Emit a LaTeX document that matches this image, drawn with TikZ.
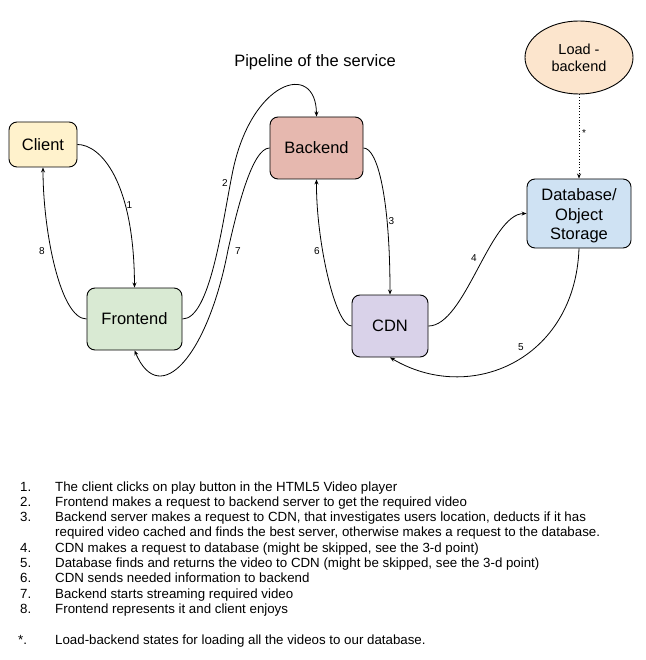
\documentclass[tikz,border=0pt]{standalone}
\usepackage{fontspec}
\setmainfont{Liberation Sans}
\usetikzlibrary{arrows.meta,shapes.geometric}
\definecolor{clientc}{HTML}{FFF2CC}
\definecolor{frontc}{HTML}{D9EAD3}
\definecolor{backc}{HTML}{E6B8AF}
\definecolor{cdnc}{HTML}{D9D2E9}
\definecolor{dbc}{HTML}{CFE2F3}
\definecolor{loadc}{HTML}{FCE5CD}
\begin{document}
\begin{tikzpicture}[x=1pt,y=-1pt,
  box/.style={draw=black,line width=0.9pt,rounded corners=8pt,align=center,
    font=\fontsize{16.5}{20}\selectfont,inner sep=0pt},
  conn/.style={line width=0.8pt,-{Stealth[length=5pt,width=4pt]}},
  elab/.style={font=\fontsize{10}{11}\selectfont,inner sep=1pt},
  item/.style={anchor=base west,font=\fontsize{13.3}{15}\selectfont,inner sep=0pt}]
\useasboundingbox (0,0) rectangle (645,660);

\node[font=\fontsize{16.5}{20}\selectfont] (title) at (315,62) {Pipeline of the service};

\node[box,fill=clientc,minimum width=68pt,minimum height=45pt] (client) at (43,144.5) {Client};
\node[box,fill=frontc,minimum width=95pt,minimum height=62pt] (frontend) at (134.5,319) {Frontend};
\node[box,fill=backc,minimum width=93pt,minimum height=62pt] (backend) at (316.5,148) {Backend};
\node[box,fill=cdnc,minimum width=76pt,minimum height=62pt] (cdn) at (390,326) {CDN};
\node[box,fill=dbc,minimum width=104pt,minimum height=69pt,
  label={[align=center,font=\fontsize{16.5}{19.5}\selectfont,inner sep=0pt,yshift=-2.5pt]center:Database/\\Object\\Storage}] (db) at (579,213.5) {};
\node[ellipse,draw=black,line width=0.9pt,fill=loadc,minimum width=108pt,minimum height=73pt,
  inner sep=0pt,align=center,font=\fontsize{14.5}{17}\selectfont] (load) at (579,57.5) {Load -\\backend};

% 1
\draw[conn] (client.east) .. controls (100,144.5) and (134,180) .. (frontend.north);
% 8
\draw[conn] (frontend.west) .. controls (60,319) and (43,230) .. (client.south);
% 2
\draw[conn] (frontend.east) .. controls (210,319) and (222,225) .. (232,175)
  .. controls (250,80) and (316,60) .. (backend.north);
% 7
\draw[conn] (backend.west) .. controls (252,148) and (237,210) .. (228,250)
  .. controls (208,355) and (160,410) .. (frontend.south);
% 3
\draw[conn] (backend.east) .. controls (378,148) and (390,200) .. (cdn.north);
% 6
\draw[conn] (cdn.west) .. controls (335,326) and (316,240) .. (backend.south);
% 4
\draw[conn] (cdn.east) .. controls (465,326) and (490,214) .. (db.west);
% 5
\draw[conn] (db.south) .. controls (575,360) and (470,405) .. (cdn.south);
% *
\draw[conn,dotted] (load.south) -- (db.north);

\node[elab,anchor=west] (l1) at (125.5,205) {1};
\node[elab] (l8) at (42,251) {8};
\node[elab] (l2) at (225,183) {2};
\node[elab] (l7) at (238,251) {7};
\node[elab,anchor=west] (l3) at (387.5,221) {3};
\node[elab] (l6) at (317,251) {6};
\node[elab] (l4) at (474,258) {4};
\node[elab] (l5) at (521,347) {5};
\node[elab] (ls) at (584,133) {*};

\node[item] (n1) at (20,491.7) {1.};
\node[item] (t1) at (55,491.7) {The client clicks on play button in the HTML5 Video player};
\node[item] (n2) at (20,506.7) {2.};
\node[item] (t2) at (55,506.7) {Frontend makes a request to backend server to get the required video};
\node[item] (n3) at (20,521.7) {3.};
\node[item] (t3) at (55,521.7) {Backend server makes a request to CDN, that investigates users location, deducts if it has};
\node[item] (t3b) at (55,536.7) {required video cached and finds the best server, otherwise makes a request to the database.};
\node[item] (n4) at (20,552.3) {4.};
\node[item] (t4) at (55,552.3) {CDN makes a request to database (might be skipped, see the 3-d point)};
\node[item] (n5) at (20,567.5) {5.};
\node[item] (t5) at (55,567.5) {Database finds and returns the video to CDN (might be skipped, see the 3-d point)};
\node[item] (n6) at (20,582.7) {6.};
\node[item] (t6) at (55,582.7) {CDN sends needed information to backend};
\node[item] (n7) at (20,598) {7.};
\node[item] (t7) at (55,598) {Backend starts streaming required video};
\node[item] (n8) at (20,613.2) {8.};
\node[item] (t8) at (55,613.2) {Frontend represents it and client enjoys};
\node[item] (ns) at (18,644.3) {*.};
\node[item] (ts) at (55,644.3) {Load-backend states for loading all the videos to our database.};
\end{tikzpicture}
\end{document}
